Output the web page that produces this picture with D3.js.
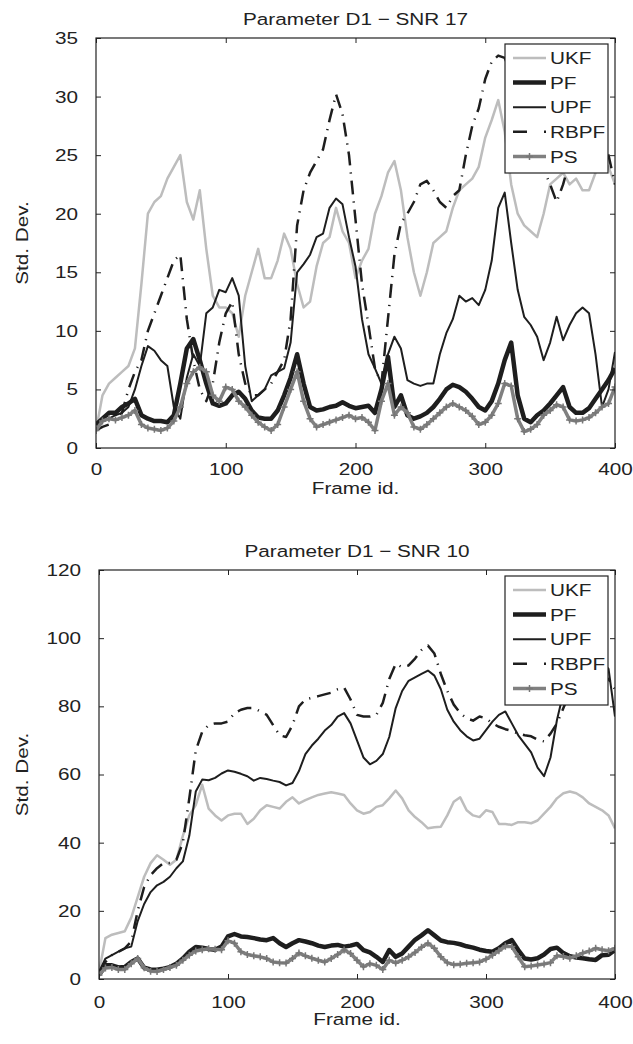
<!DOCTYPE html>
<html>
<head>
<meta charset="utf-8">
<script src="https://cdn.jsdelivr.net/npm/d3@7"></script>
<style>
  body { margin: 0; background: #fff; }
  text { font-family: "Liberation Sans", Arial, sans-serif; font-size: 17px; fill: #222; }
</style>
</head>
<body>
<div class="chart"></div>
<script>
// Std. dev. of parameter D1 per frame, five filters, two noise levels

var svgWidth = 633;
var svgHeight = 1044;

// x categories: frame id, sampled every 5 frames
var frames = d3.range(0, 401, 5);

var seriesNames = ["UKF", "PF", "UPF", "RBPF", "PS"];

// ---- SNR 17 ----
var ukf17 = [1.5, 4.5, 5.5, 6, 6.5, 7, 8.5, 14, 20, 21,
  21.5, 23, 24, 25, 21, 19.5, 22, 17, 13, 12,
  12, 11.5, 9.5, 13, 15, 17, 14.5, 14.5, 16, 18.3,
  17, 14, 12, 12.5, 15.5, 17.5, 18, 20.5, 18.5, 17.5,
  14.5, 16, 17, 20, 21.5, 23.5, 24.5, 22, 18, 15,
  13, 15, 17.5, 18, 18.5, 20.5, 22, 22.5, 23, 24,
  26.5, 28, 29.7, 27, 22.5, 20, 19, 18.5, 18, 20,
  22.5, 23, 23.5, 22.5, 23, 22, 22, 23.5, 24.5, 24,
  22.5];
var pf17 = [2, 2.5, 3, 3, 3.5, 3.8, 4.2, 2.8, 2.5, 2.3,
  2.3, 2.2, 2.8, 5.5, 8.5, 9.3, 7.5, 5.5, 3.8, 3.6,
  3.8, 4.5, 4.8, 4.2, 3.2, 2.6, 2.5, 2.5, 3.2, 4.5,
  6, 8, 5.5, 3.5, 3.2, 3.3, 3.5, 3.6, 3.9, 3.6,
  3.4, 3.5, 3.6, 3, 5, 7.8, 3.5, 4.5, 2.8, 2.5,
  2.7, 3, 3.5, 4.2, 5, 5.4, 5.2, 4.8, 4.2, 3.5,
  3.2, 4, 5.5, 7.5, 9, 4.5, 2.5, 2.2, 2.8, 3.2,
  3.8, 4.5, 5.2, 3.5, 3, 3, 3.4, 4.2, 5, 5.8,
  6.8];
var upf17 = [2, 2.3, 2.5, 2.8, 3, 3.5, 5, 7, 8.7, 8.3,
  7.5, 7, 3.5, 2.5, 6, 8, 7, 11.5, 12, 13.5,
  13.3, 14.5, 13, 7, 4, 4.5, 5, 6.2, 6.5, 6.8,
  9, 15, 15.7, 16.5, 18, 18.3, 20.5, 21.3, 20.8, 18,
  15.5, 11, 8, 6.8, 5.5, 8, 9.5, 8.5, 5.8, 5.5,
  5.3, 5.5, 5.5, 8, 9.8, 11, 13, 12.5, 12.8, 12.2,
  13.5, 16, 20.5, 21.8, 17.5, 13.5, 11.2, 10.5, 9.5, 7.5,
  9, 11.2, 9.2, 10.5, 11.5, 12, 11.5, 8, 3.5, 5,
  8.2];
var rbpf17 = [1.5, 1.8, 2, 2.5, 3, 5, 6.5, 7.5, 10, 11.5,
  13, 14.5, 16, 16.5, 11, 7.5, 5, 4, 5.5, 9,
  11.5, 12.5, 8, 5.5, 4.5, 4.5, 5, 5.5, 6.5, 7.5,
  11, 19, 22, 23.5, 24.5, 25.5, 28, 30.2, 28.5, 25,
  19.5, 14, 10.5, 6.8, 5.5, 11, 16.5, 19.2, 20, 21,
  22.5, 22.8, 22, 21, 20.5, 21.5, 22, 25, 27.5, 29,
  31.5, 33, 33.5, 33.3, 32, 30, 28, 26.5, 25, 23.8,
  22.5, 21, 22.5, 24.5, 25.5, 26, 26.5, 26, 25.5, 25,
  22.5];
var ps17 = [1.5, 2.3, 2.5, 2.4, 2.6, 2.8, 3.2, 2, 1.7, 1.6,
  1.5, 1.7, 2.3, 3.5, 5.5, 6.5, 6.9, 6.5, 4.5, 4,
  5.2, 5, 4, 3.5, 2.8, 2.2, 1.8, 1.5, 2, 3.5,
  5, 6.5, 4, 2.5, 1.8, 2, 2.2, 2.4, 2.6, 2.8,
  2.5, 2.6, 2.2, 1.5, 4, 5.5, 2.8, 3.5, 3, 1.8,
  1.6, 2, 2.5, 3, 3.5, 3.8, 3.5, 3.2, 2.7, 2,
  2.2, 2.8, 3.8, 5.5, 5.3, 2.5, 1.4, 1.6, 2, 2.8,
  3.2, 3.7, 3.5, 2.4, 2.3, 2.4, 2.6, 3, 3.5, 3.8,
  5.2];

// ---- SNR 10 ----
var ukf10 = [2, 12, 13, 13.5, 14, 18, 24, 30, 34, 36.3,
  35, 33.5, 35, 42, 48, 51, 57, 50, 48, 46.5,
  48, 48.5, 48.5, 45.5, 47, 49.5, 51, 50.5, 50, 52,
  53.3, 51.5, 52.5, 53.3, 54, 54.4, 54.8, 54.4, 54, 51.5,
  49.5, 48.5, 49, 50.5, 51, 53, 55.3, 53, 49.5, 47.5,
  46, 44.2, 44.5, 44.7, 48, 52, 53.3, 49.5, 48, 47.5,
  49.5, 49, 45.5, 45.5, 45.2, 46, 46, 45.7, 46.5, 48.5,
  50.5, 53, 54.5, 55, 54.5, 53.3, 51.5, 50.5, 49.5, 48,
  44.2];
var pf10 = [1.2, 4, 4, 3.4, 3.5, 5, 6, 3.3, 2.8, 2.7,
  3, 3.5, 4.5, 6, 8, 9.4, 9.2, 8.8, 8.6, 9.5,
  12.5, 13.2, 12.5, 12.3, 12, 11.6, 11.4, 12, 10.5, 9.4,
  10.5, 11.4, 11, 10.5, 9.8, 9.4, 9.8, 10, 9.5, 9.8,
  10.3, 8.5, 7.8, 6.5, 5, 8.5, 6.5, 7.5, 9.5, 11.5,
  12.8, 14.3, 12.8, 11.3, 10.8, 10.6, 10.2, 9.6, 9.2, 8.6,
  8.2, 8, 9, 10.5, 11.4, 8.5, 6, 5.7, 6.1, 7.2,
  8.8, 9.2, 7.6, 6.7, 6.3, 6.1, 5.8, 5.6, 7, 7.1,
  8.5];
var upf10 = [2, 6, 7, 8, 9, 9.5, 17, 22, 25.5, 27.5,
  28.5, 30, 32.5, 34.5, 42, 55, 58.5, 58.3, 59, 60.3,
  61.2, 60.8, 60.2, 59.5, 58.2, 59, 58.7, 58.2, 57.8, 56.8,
  57.5, 61, 66, 68.5, 70.5, 72.9, 74.5, 77, 78, 75,
  70, 65, 63, 64, 66, 71, 79.5, 84.5, 87.5, 88.5,
  89.5, 90.5, 89, 85, 79, 75.5, 73, 71.2, 70, 70.5,
  73, 75.5, 77.5, 78.5, 75, 71.5, 69, 66.5, 62, 59.5,
  65, 76, 84, 90, 93, 95, 96, 95, 93, 91,
  77];
var rbpf10 = [2, 5, 7, 8, 9, 11, 20, 27, 30.5, 32.5,
  34, 34, 35, 40, 53, 67, 72.5, 74.5, 75, 75,
  75.5, 78, 79, 79.5, 79.5, 78.5, 77.5, 74.5, 71.5, 71,
  74.5, 80, 82, 82.5, 83, 83.5, 84, 85, 85.5, 82,
  77.5, 77, 77, 77.5, 81, 88, 92.5, 91.5, 92, 94,
  96.5, 97.8, 95.5, 89.5, 84.5, 80.5, 78, 76.5, 75.8, 77,
  76.5, 75, 74, 73.3, 72.8, 72, 71.5, 71.2, 70.2, 69.7,
  72, 75, 79.5, 84, 87, 89, 90, 90, 89, 88,
  85];
var ps10 = [1.2, 3.2, 3.4, 2.8, 2.8, 4.5, 6, 3.3, 2.3, 2.2,
  2.8, 3.4, 4, 5.5, 7, 8.2, 8.6, 8.9, 8.7, 8.6,
  11.2, 10.5, 8, 7.2, 6.8, 6.5, 6, 5, 4.8, 4.7,
  6, 7.6, 6.8, 6.1, 5.5, 5, 6, 7.2, 8.5, 7.5,
  5.5, 3.6, 4.5, 4, 2.8, 5.5, 4.7, 5.5, 6.5, 7.8,
  9.3, 10.5, 9, 6.5, 4.8, 4.2, 4.3, 4.6, 4.8, 5,
  5.8, 7, 8.3, 9.6, 9.5, 6.5, 3.6, 3.8, 4.1, 4.4,
  4.8, 6.8, 6.6, 6.1, 6.8, 7.6, 8.2, 9, 8.6, 8.3,
  9];

var xTicks = [0, 100, 200, 300, 400];
var yTicks17 = [0, 5, 10, 15, 20, 25, 30, 35];
var yTicks10 = [0, 20, 40, 60, 80, 100, 120];

// line look for each filter
var styles = {
  UKF:  { color: "#bdbdbd", width: 2.5 },
  PF:   { color: "#1e1e1e", width: 4.5 },
  UPF:  { color: "#1e1e1e", width: 2 },
  RBPF: { color: "#1e1e1e", width: 2.5, dash: "14,7,1.2,7" },
  PS:   { color: "#808080", width: 3.5, marker: true }
};

// panel boxes (pixels)
var panels = [
  { title: "Parameter D1 \u2212 SNR 17", left: 96, right: 615, top: 38, bottom: 448,
    yMax: 35, yTicks: yTicks17, data: [ukf17, pf17, upf17, rbpf17, ps17], xPad: 15 },
  { title: "Parameter D1 \u2212 SNR 10", left: 99, right: 615, top: 570, bottom: 979,
    yMax: 120, yTicks: yTicks10, data: [ukf10, pf10, upf10, rbpf10, ps10], xPad: 17 }
];

var stretch = 1.22;

var svg = d3.select(".chart")
  .append("svg")
  .attr("width", svgWidth)
  .attr("height", svgHeight);

// widen glyphs a bit, keeping each text's anchor point in place
function widen(sel) {
  sel.each(function() {
    var t = d3.select(this);
    var x = +t.attr("x") || 0;
    var y = +t.attr("y") || 0;
    t.attr("x", 0).attr("y", 0)
      .attr("transform", "translate(" + x + "," + y + ") scale(" + stretch + ",1)");
  });
}

function label(g, x, y, str, rot) {
  return g.append("text")
    .attr("transform", "translate(" + x + "," + y + ")" + (rot ? " rotate(" + rot + ")" : "") +
      " scale(" + stretch + ",1)")
    .attr("text-anchor", "middle")
    .text(str);
}

function plusPath(s) {
  return "M" + (-s) + ",0H" + s + "M0," + (-s) + "V" + s;
}

panels.forEach(function(p, pi) {
  var w = p.right - p.left;
  var h = p.bottom - p.top;
  var g = svg.append("g").attr("transform", "translate(" + p.left + "," + p.top + ")");

  var x = d3.scaleLinear().domain([0, 400]).range([0, w]);
  var y = d3.scaleLinear().domain([0, p.yMax]).range([h, 0]);

  g.append("clipPath").attr("id", "clip" + pi)
    .append("rect").attr("width", w).attr("height", h);

  var plot = g.append("g").attr("clip-path", "url(#clip" + pi + ")");

  var line = d3.line()
    .x(function(d, i) { return x(frames[i]); })
    .y(function(d) { return y(d); });

  seriesNames.forEach(function(name, si) {
    var st = styles[name];
    var vals = p.data[si];
    plot.append("path")
      .datum(vals)
      .attr("fill", "none")
      .attr("stroke", st.color)
      .attr("stroke-width", st.width)
      .attr("stroke-linejoin", "round")
      .attr("stroke-dasharray", st.dash || null)
      .attr("d", line);
    if (st.marker) {
      plot.selectAll(".mk" + si)
        .data(vals)
        .enter().append("path")
        .attr("class", "mk" + si)
        .attr("transform", function(d, i) { return "translate(" + x(frames[i]) + "," + y(d) + ")"; })
        .attr("d", plusPath(3.5))
        .attr("stroke", "#777")
        .attr("stroke-width", 1.5)
        .attr("fill", "none");
    }
  });

  // axes, ticks pointing inward like matlab
  var bottomAxis = d3.axisBottom(x).tickValues(xTicks).tickSizeInner(-5).tickSizeOuter(0).tickPadding(p.xPad);
  var leftAxis = d3.axisLeft(y).tickValues(p.yTicks).tickSizeInner(-5).tickSizeOuter(0).tickPadding(18);

  var gx = g.append("g").attr("transform", "translate(0," + h + ")").call(bottomAxis);
  var gy = g.append("g").call(leftAxis);
  g.append("g").call(d3.axisTop(x).tickValues(xTicks).tickSizeInner(-5).tickSizeOuter(0).tickFormat(""));
  g.append("g").attr("transform", "translate(" + w + ",0)")
    .call(d3.axisRight(y).tickValues(p.yTicks).tickSizeInner(-5).tickSizeOuter(0).tickFormat(""));

  g.selectAll(".domain").remove();
  g.selectAll(".tick line").attr("stroke", "#222").attr("stroke-width", 1);
  [gx, gy].forEach(function(a) {
    a.selectAll("text").attr("font-size", null).attr("font-family", null).attr("fill", "#222").call(widen);
  });

  g.append("rect")
    .attr("width", w).attr("height", h)
    .attr("fill", "none").attr("stroke", "#222").attr("stroke-width", 1.2);

  // titles
  label(g, w / 2, -13, p.title);
  label(g, w / 2, h + 46, "Frame id.");
  label(g, -p.left + 28, h / 2, "Std. Dev.", -90);

  // legend
  var lw = 103, lh = 129;
  var lg = g.append("g").attr("transform", "translate(" + (w - 7 - lw) + ",6)");
  lg.append("rect").attr("width", lw).attr("height", lh)
    .attr("fill", "#fff").attr("stroke", "#222").attr("stroke-width", 1.2);
  seriesNames.forEach(function(name, si) {
    var st = styles[name];
    var cy = 14 + si * 24.6;
    lg.append("line")
      .attr("x1", 8).attr("x2", 41).attr("y1", cy).attr("y2", cy)
      .attr("stroke", st.color).attr("stroke-width", st.width)
      .attr("stroke-dasharray", st.dash ? "14,17,2,10" : null);
    if (st.marker) {
      lg.append("path").attr("transform", "translate(24.5," + cy + ")")
        .attr("d", plusPath(3.5)).attr("stroke", "#777").attr("stroke-width", 1.5);
    }
    lg.append("text")
      .attr("x", 45).attr("y", cy).attr("dy", "0.36em")
      .text(name)
      .call(widen);
  });
});
</script>
</body>
</html>
